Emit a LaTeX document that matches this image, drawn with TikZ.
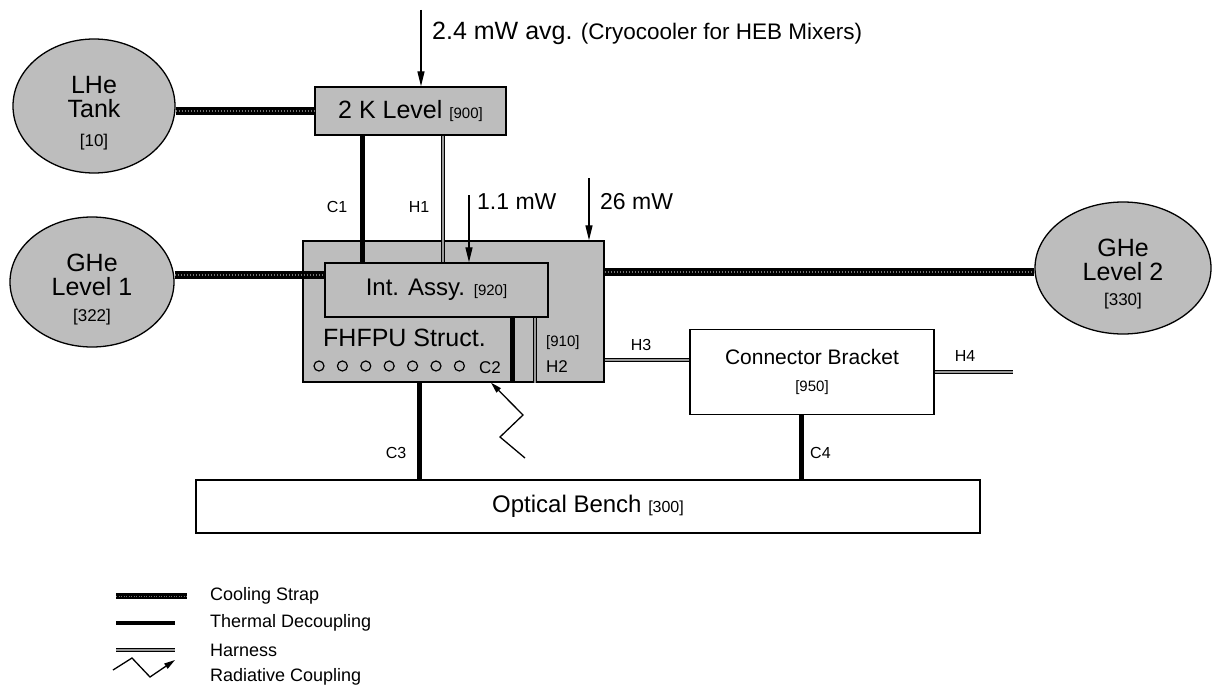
\documentclass[tikz,border=0pt]{standalone}
\usepackage{fontspec}
\setmainfont{Liberation Sans}
\usetikzlibrary{arrows.meta,shapes.geometric}
\begin{document}
\begin{tikzpicture}[x=1pt,y=-1pt,
  every node/.style={font=\fontsize{16}{19}\selectfont},
  shaded/.style={draw, line width=1.3pt, fill=black!26},
  tank/.style={shaded, ellipse, inner sep=0pt},
  tanktxt/.style={align=center, inner sep=0pt, font=\fontsize{25}{24}\selectfont},
  box/.style={draw, line width=1.3pt, inner sep=0pt},
  strap/.style={line width=8.5pt, draw=black, postaction={draw=black!55, line width=1.2pt, dash pattern=on 1.2pt off 1.8pt}},
  decoup/.style={line width=5pt},
  harness/.style={line width=0.9pt, double=black!40, double distance=2.2pt},
  heat/.style={line width=1.2pt, -{Triangle[length=15pt,width=7pt]}},
  rad/.style={line width=1.3pt, -{Triangle[length=11pt,width=6pt]}},
  lbl/.style={font=\fontsize{16}{19}\selectfont, inner sep=0pt},
  leg/.style={font=\fontsize{18}{20}\selectfont, inner sep=0pt, anchor=west},
  ]
\useasboundingbox (0,0) rectangle (1215,685);

% tanks
\node[tank, minimum width=162pt, minimum height=134pt] (lhe) at (94,106) {};
\node[tanktxt] (lhetxt) at (94,113) {LHe\\Tank\\[5pt]{\fontsize{17}{17}\selectfont [10]}};
\node[tank, minimum width=164pt, minimum height=130pt] (ghe1) at (92,282) {};
\node[tanktxt] (ghe1txt) at (92,290) {GHe\\Level 1\\[2pt]{\fontsize{17}{17}\selectfont [322]}};
\node[tank, minimum width=176pt, minimum height=132pt] (ghe2) at (1123,268) {};
\node[tanktxt] (ghe2txt) at (1123,274) {GHe\\Level 2\\[1pt]{\fontsize{17}{17}\selectfont [330]}};

% boxes
\node[box, shaded, minimum width=191pt, minimum height=48pt, font=\fontsize{25}{28}\selectfont] (twoK) at (410.5,111)
  {2 K Level {\fontsize{15}{18}\selectfont [900]}};
\node[box, shaded, minimum width=301pt, minimum height=141pt] (fhfpu) at (453.5,311.5) {};
\node[box, draw=none, fill=none, minimum width=223pt, minimum height=54pt] (intassyp) at (436.5,290) {};
\node[box, fill=white, minimum width=784pt, minimum height=53pt, font=\fontsize{24}{26}\selectfont] (bench) at (588,506.5)
  {Optical Bench {\fontsize{16}{18}\selectfont [300]}};

% cooling straps
\draw[strap] (lhe.east |- twoK.west) -- (twoK.west);
\draw[strap] (ghe1.east |- 0,275) -- (intassyp.west |- 0,275);
\draw[strap] (fhfpu.east |- 0,272) -- (ghe2.west |- 0,272);

% int assy on top of strap
\node[box, shaded, minimum width=223pt, minimum height=54pt, font=\fontsize{24}{28}\selectfont] (intassy) at (436.5,290)
  {Int. Assy. {\fontsize{15}{18}\selectfont [920]}};
\node[box, fill=white, minimum width=244pt, minimum height=85pt, align=center, font=\fontsize{21}{27}\selectfont] (bracket) at (812,372)
  {Connector Bracket\\{\fontsize{15}{18}\selectfont [950]}};

% FHFPU contents
\node[anchor=west, inner sep=0pt, font=\fontsize{25}{28}\selectfont] (fhtxt) at (323,338) {FHFPU Struct.};
\foreach \i in {0,...,6} \draw[line width=1.2pt] (319+23.4*\i,366) circle[radius=5pt];
\node[lbl, font=\fontsize{17}{19}\selectfont] (c2lbl) at (490,368) {C2};
\node[lbl, anchor=west, font=\fontsize{15}{18}\selectfont] (l910) at (546,343) {[910]};
\node[lbl, anchor=west, font=\fontsize{17}{19}\selectfont] (h2lbl) at (546,367) {H2};

% thermal decoupling and harness
\draw[decoup] (362,0 |- twoK.south) -- (362,0 |- intassy.north);
\draw[harness] (443,0 |- twoK.south) -- (443,0 |- intassy.north);
\draw[decoup] (512,0 |- intassy.south) -- (512,0 |- fhfpu.south);
\draw[harness] (535,0 |- intassy.south) -- (535,0 |- fhfpu.south);
\draw[decoup] (419,0 |- fhfpu.south) -- (419,0 |- bench.north);
\draw[decoup] (801,0 |- bracket.south) -- (801,0 |- bench.north);
\draw[harness] (fhfpu.east |- 0,360) -- (bracket.west |- 0,360);
\coordinate (h4end) at (1013,372);
\draw[harness] (bracket.east |- h4end) -- (h4end);

\node[lbl] (c1lbl) at (337,207) {C1};
\node[lbl] (h1lbl) at (419,207) {H1};
\node[lbl] (c3lbl) at (396,453) {C3};
\node[lbl, anchor=west] (c4lbl) at (810,453) {C4};
\node[lbl] (h3lbl) at (641,345) {H3};
\node[lbl] (h4lbl) at (965,356) {H4};

% heat loads
\coordinate (q1) at (421,10);
\draw[heat] (q1) -- (q1 |- twoK.north);
\node[anchor=west, inner sep=0pt, font=\fontsize{22.5}{25}\selectfont] (q1txt) at (432,33)
  {{\fontsize{25}{27}\selectfont 2.4 mW avg.} (Cryocooler for HEB Mixers)};
\coordinate (q2) at (469,195);
\draw[heat] (q2) -- (q2 |- intassy.north);
\node[anchor=west, inner sep=0pt, font=\fontsize{23}{26}\selectfont] (q2txt) at (477,202) {1.1 mW};
\coordinate (q3) at (589,178);
\draw[heat] (q3) -- (q3 |- fhfpu.north);
\node[anchor=west, inner sep=0pt, font=\fontsize{23}{26}\selectfont] (q3txt) at (600,202) {26 mW};

% radiative coupling
\coordinate (r1) at (525,458);
\coordinate (r2) at (500,437);
\coordinate (r3) at (523,415);
\draw[rad] (r1) -- (r2) -- (r3) -- (491,0 |- fhfpu.south);

% legend
\draw[line width=6pt, draw=black, postaction={draw=black!55, line width=1pt, dash pattern=on 1pt off 1.5pt}] (116,596) -- (187,596);
\draw[line width=4.5pt] (116,623) -- (175,623);
\draw[harness] (116,650) -- (175,650);
\draw[rad] (113,670) -- (132,658) -- (150,677) -- (175,660);
\node[leg] (lg1) at (210,596) {Cooling Strap};
\node[leg] (lg2) at (210,623) {Thermal Decoupling};
\node[leg] (lg3) at (210,650) {Harness};
\node[leg] (lg4) at (210,677) {Radiative Coupling};
\end{tikzpicture}
\end{document}
